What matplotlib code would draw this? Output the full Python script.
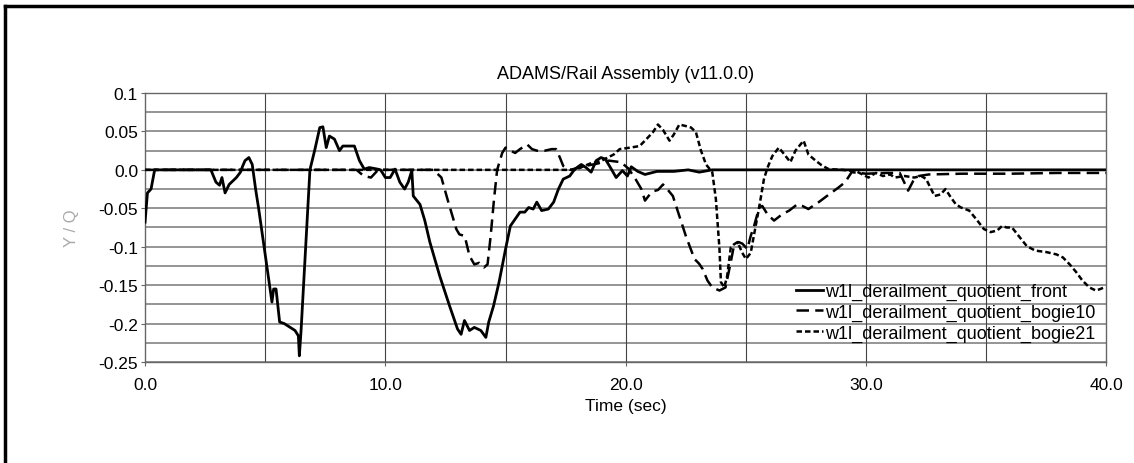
import numpy as np
import matplotlib
matplotlib.use("Agg")
import matplotlib.pyplot as plt
from matplotlib.lines import Line2D

plt.rcParams["font.family"] = ["Liberation Sans", "DejaVu Sans"]

# w1l_derailment_quotient_front (solid)
t_front = [0.0, 0.1, 0.25, 0.4, 1.0, 2.0, 2.74, 2.95, 3.1, 3.2, 3.33, 3.5, 3.8, 3.97, 4.05,
           4.16, 4.32, 4.46, 4.6, 4.73, 5.28, 5.35, 5.45, 5.6, 5.79, 6.24, 6.38, 6.42, 6.49,
           6.86, 7.07, 7.27, 7.4, 7.54, 7.67, 7.88, 8.09, 8.23, 8.71, 8.92, 9.12, 9.33, 9.67,
           9.8, 10.0, 10.2, 10.4, 10.6, 10.8, 10.95, 11.1, 11.16, 11.44, 11.64, 11.85, 12.26,
           12.67, 13.0, 13.15, 13.29, 13.5, 13.7, 13.97, 14.18, 14.3, 14.5, 14.73, 15.0, 15.2,
           15.4, 15.6, 15.8, 15.96, 16.15, 16.3, 16.5, 16.78, 17.0, 17.2, 17.4, 17.67, 17.88,
           18.15, 18.35, 18.56, 18.77, 18.97, 19.15, 19.4, 19.6, 19.86, 20.07, 20.23, 20.5,
           20.8, 21.3, 22.0, 22.6, 23.06, 23.6, 25.0, 27.0, 30.0, 33.0, 36.0, 40.0]
v_front = [-0.068, -0.03, -0.025, 0.0, 0.0, 0.0, 0.0, -0.016, -0.02, -0.01, -0.03, -0.019,
           -0.01, -0.003, 0.004, 0.012, 0.016, 0.007, -0.025, -0.051, -0.172, -0.155, -0.155,
           -0.198, -0.2, -0.209, -0.216, -0.242, -0.21, 0.0, 0.027, 0.055, 0.056, 0.029, 0.044,
           0.04, 0.025, 0.031, 0.031, 0.012, 0.001, 0.003, 0.001, 0.0, -0.01, -0.01, 0.001,
           -0.016, -0.025, -0.016, -0.001, -0.034, -0.045, -0.066, -0.094, -0.138, -0.177,
           -0.207, -0.214, -0.196, -0.209, -0.205, -0.209, -0.218, -0.198, -0.177, -0.146,
           -0.103, -0.073, -0.064, -0.055, -0.055, -0.049, -0.051, -0.042, -0.053, -0.051,
           -0.042, -0.025, -0.012, -0.008, 0.001, 0.007, 0.003, -0.003, 0.012, 0.016, 0.014,
           0.001, -0.01, -0.001, -0.008, 0.004, -0.002, -0.006, -0.002, -0.002, 0.0, -0.003,
           0.0, 0.0, 0.0, 0.0, 0.0, 0.0, 0.0]

# w1l_derailment_quotient_bogie10 (long dashes)
t_b10 = [0.0, 5.0, 8.8, 9.1, 9.4, 9.7, 11.0, 12.0, 12.33, 12.6, 12.95, 13.08, 13.3, 13.5,
         13.7, 13.9, 14.1, 14.25, 14.38, 14.52, 14.65, 14.86, 15.0, 15.2, 15.4, 15.6, 15.9,
         16.1, 16.3, 16.64, 16.92, 17.1, 17.26, 17.4, 17.7, 18.3, 18.8, 19.3, 19.8, 20.1,
         20.37, 20.65, 20.8, 21.0, 21.15, 21.35, 21.55, 21.75, 21.96, 22.23, 22.5, 22.86,
         23.05, 23.2, 23.4, 23.6, 23.9, 24.15, 24.37, 24.5, 24.7, 24.85, 25.06, 25.2, 25.34,
         25.55, 25.68, 25.9, 26.17, 26.5, 26.8, 27.13, 27.35, 27.6, 28.03, 28.37, 28.85,
         29.13, 29.4, 30.0, 30.8, 31.4, 31.75, 31.95, 32.2, 32.6, 34.0, 36.0, 38.0, 40.0]
v_b10 = [0.0, 0.0, 0.0, -0.008, -0.01, 0.0, 0.0, 0.0, -0.01, -0.04, -0.077, -0.084, -0.086,
         -0.112, -0.123, -0.121, -0.127, -0.123, -0.086, -0.038, 0.0, 0.022, 0.029, 0.025,
         0.022, 0.027, 0.033, 0.027, 0.025, 0.025, 0.027, 0.027, 0.016, 0.005, 0.0, 0.005,
         0.008, 0.012, 0.01, 0.002, -0.01, -0.025, -0.04, -0.032, -0.028, -0.026, -0.019,
         -0.026, -0.034, -0.06, -0.086, -0.116, -0.122, -0.129, -0.144, -0.153, -0.157,
         -0.153, -0.12, -0.099, -0.094, -0.096, -0.103, -0.086, -0.073, -0.049, -0.047,
         -0.058, -0.066, -0.058, -0.053, -0.045, -0.047, -0.051, -0.042, -0.034, -0.023,
         -0.016, -0.003, -0.005, -0.004, -0.004, -0.027, -0.015, -0.008, -0.006, -0.005,
         -0.005, -0.004, -0.004]

# w1l_derailment_quotient_bogie21 (short dashes)
t_b21 = [0.0, 10.0, 15.0, 17.9, 18.5, 19.0, 19.5, 19.75, 20.2, 20.58, 20.86, 21.13, 21.34,
         21.55, 21.82, 22.0, 22.23, 22.5, 22.72, 22.92, 23.13, 23.34, 23.6, 23.75, 23.9,
         23.96, 24.1, 24.22, 24.37, 24.5, 24.65, 24.85, 25.0, 25.2, 25.34, 25.55, 25.75,
         25.9, 26.1, 26.37, 26.6, 26.85, 27.06, 27.4, 27.6, 27.9, 28.15, 28.44, 29.0, 29.6,
         30.1, 30.4, 30.7, 31.0, 31.2, 31.6, 32.0, 32.3, 32.5, 32.64, 32.85, 33.1, 33.3,
         33.53, 33.74, 33.95, 34.29, 34.63, 34.9, 35.18, 35.45, 35.66, 35.85, 36.07, 36.4,
         36.68, 37.03, 37.5, 37.92, 38.19, 38.47, 38.74, 39.0, 39.29, 39.56, 39.75, 39.9]
v_b21 = [0.0, 0.0, 0.0, 0.0, 0.008, 0.012, 0.02, 0.027, 0.029, 0.031, 0.04, 0.049, 0.059,
         0.052, 0.038, 0.046, 0.059, 0.057, 0.055, 0.049, 0.025, 0.007, -0.003, -0.038,
         -0.103, -0.146, -0.153, -0.138, -0.101, -0.097, -0.094, -0.108, -0.116, -0.108,
         -0.084, -0.049, -0.012, 0.003, 0.018, 0.029, 0.02, 0.01, 0.025, 0.038, 0.02, 0.012,
         0.006, 0.001, 0.0, -0.002, -0.01, -0.004, -0.008, -0.006, -0.01, -0.008, -0.01,
         -0.008, -0.012, -0.021, -0.034, -0.032, -0.025, -0.036, -0.045, -0.049, -0.053,
         -0.066, -0.077, -0.081, -0.079, -0.073, -0.075, -0.075, -0.088, -0.099, -0.105,
         -0.107, -0.11, -0.114, -0.123, -0.133, -0.144, -0.153, -0.157, -0.155, -0.153]

x_ticks = [0, 10, 20, 30, 40]
x_labels = ["0.0", "10.0", "20.0", "30.0", "40.0"]
y_ticks = [0.1, 0.05, 0.0, -0.05, -0.1, -0.15, -0.2, -0.25]
y_labels = ["0.1", "0.05", "0.0", "-0.05", "-0.1", "-0.15", "-0.2", "-0.25"]

fig = plt.figure(figsize=(11.34, 4.64), dpi=100)
ax = fig.add_axes([0.1279, 0.2177, 0.8478, 0.5797])

# grid: horizontal every 0.025 (grey), vertical every 5 (dark)
for yv in np.arange(-0.25, 0.1001, 0.025):
    ax.axhline(yv, color="#8c8c8c", lw=1.3, zorder=1)
for xv in range(5, 40, 5):
    ax.axvline(xv, color="#444444", lw=0.8, zorder=1)

ax.plot(t_front, v_front, color="black", lw=2.0, ls="-", zorder=3,
        label="w1l_derailment_quotient_front")
ax.plot(t_b10, v_b10, color="black", lw=1.8, ls=(0, (5, 2.5)), zorder=3,
        label="w1l_derailment_quotient_bogie10")
ax.plot(t_b21, v_b21, color="black", lw=1.8, ls=(0, (2.2, 1.2)), zorder=3,
        label="w1l_derailment_quotient_bogie21")

ax.set_xlim(0, 40)
ax.set_ylim(-0.25, 0.1)
ax.set_xticks(x_ticks)
ax.set_xticklabels(x_labels)
ax.set_yticks(y_ticks)
ax.set_yticklabels(y_labels)
ax.tick_params(labelsize=12.5, length=3, color="#666666")
ax.tick_params(axis="x", pad=8)
ax.tick_params(axis="y", pad=2)
for s in ax.spines.values():
    s.set_color("#666666")
    s.set_linewidth(1.0)

ax.set_title("ADAMS/Rail Assembly (v11.0.0)", fontsize=13, pad=11)
ax.set_xlabel("Time (sec)", fontsize=12.5, labelpad=4)
ax.set_ylabel("Y / Q", fontsize=12, color="#aaaaaa", labelpad=14)

leg = ax.legend(loc="lower right", bbox_to_anchor=(1.0, 0.035), frameon=False,
                fontsize=13, handlelength=1.5, handletextpad=0.1, labelspacing=0.2,
                borderaxespad=0.2)

# outer border (top and left)
fig.add_artist(Line2D([0.004, 1.0], [0.985, 0.985], color="black", lw=2.5,
                      transform=fig.transFigure))
fig.add_artist(Line2D([0.004, 0.004], [0.0, 0.985], color="black", lw=2.5,
                      transform=fig.transFigure))

fig.savefig("out.png", dpi=100)
